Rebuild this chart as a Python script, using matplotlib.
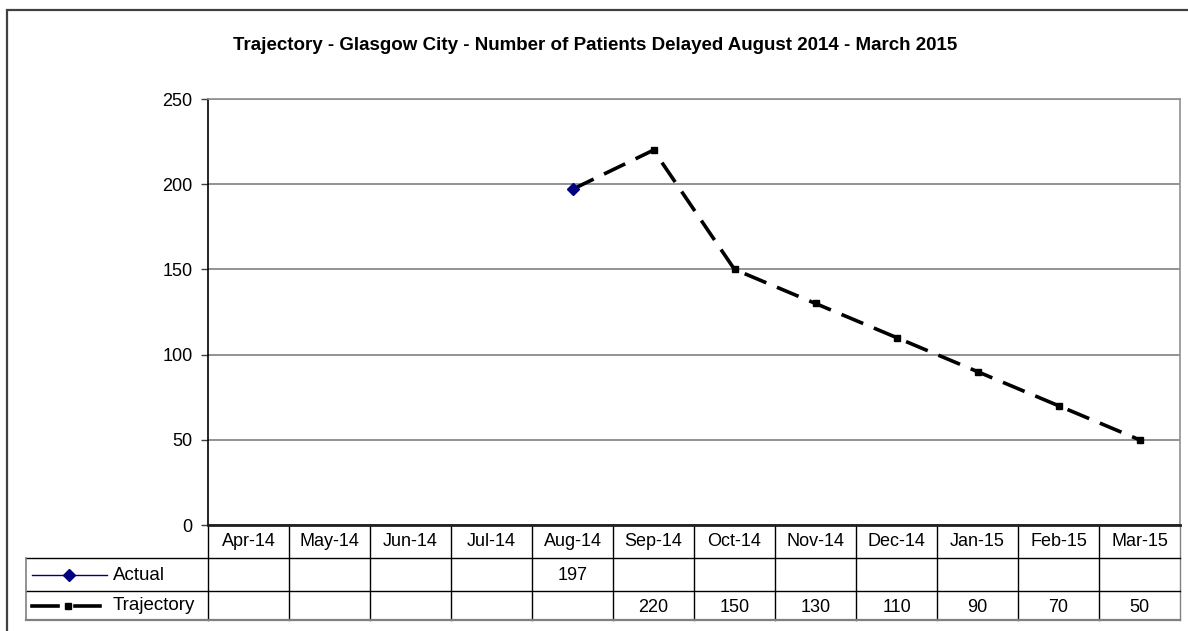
import numpy as np
import matplotlib
matplotlib.use("Agg")
from matplotlib import pyplot as plt
from matplotlib.lines import Line2D
from matplotlib.patches import Rectangle
import matplotlib.transforms as mtransforms

months = ["Apr-14", "May-14", "Jun-14", "Jul-14", "Aug-14", "Sep-14",
          "Oct-14", "Nov-14", "Dec-14", "Jan-15", "Feb-15", "Mar-15"]
actual = [None, None, None, None, 197, None, None, None, None, None, None, None]
trajectory = [None, None, None, None, None, 220, 150, 130, 110, 90, 70, 50]
title = "Trajectory - Glasgow City - Number of Patients Delayed August 2014 - March 2015"
yticks = [0, 50, 100, 150, 200, 250]

plt.rcParams['font.family'] = ['Liberation Sans', 'DejaVu Sans']

W, H = 1188, 631
fig = plt.figure(figsize=(W / 100, H / 100), dpi=100)

def fx(px):
    return px / W

def fy(py):
    return 1 - py / H

# outer chart frame (clipped on right and bottom)
fig.add_artist(Rectangle((fx(7), fy(700)), fx(1300), fy(10) - fy(700),
                         fill=False, ec="#404040", lw=1.6, transform=fig.transFigure))

left, right, top, bottom = 208, 1180, 99, 525
ax = fig.add_axes([fx(left), fy(bottom), fx(right - left), fy(top) - fy(bottom)])

x = np.arange(len(months))
act = np.array([np.nan if v is None else v for v in actual], dtype=float)
traj = np.array([np.nan if v is None else v for v in trajectory], dtype=float)
# trajectory line continues from the last actual value
traj_line = traj.copy()
last = np.where(~np.isnan(act))[0][-1]
traj_line[last] = act[last]

ax.plot(x, traj_line, color="black", lw=2.6, linestyle=(0, (6.5, 3.2)), zorder=3)
ax.plot(x, traj, color="black", lw=0, marker="s", ms=5, zorder=4)
ax.plot(x, act, color="#000080", lw=1, marker="D", ms=6.5, zorder=5)

ax.set_xlim(-0.5, len(months) - 0.5)
ax.set_ylim(0, 250)
ax.set_yticks(yticks)
ax.set_xticks([])
ax.grid(axis="y", color="#808080", lw=1.2)
ax.set_axisbelow(True)
for s in ["top", "right"]:
    ax.spines[s].set_color("#909090")
    ax.spines[s].set_linewidth(1.2)
ax.spines["left"].set_color("black")
ax.spines["left"].set_linewidth(1.2)
ax.spines["bottom"].set_color("#202020")
ax.spines["bottom"].set_linewidth(2)
ax.tick_params(axis="y", direction="out", length=5, width=1, color="#404040",
               labelsize=13, pad=6)

fig.text(fx(595), fy(45), title, ha="center", va="center", fontsize=13.5,
         fontweight="bold")

# data table below the axis
trans = mtransforms.blended_transform_factory(ax.transData, fig.transFigure)
row_top, row1, row2, row_bot = 525, 558, 591, 620
tab_left = 26
fs = 13

# horizontal lines
for py, x0 in [(row1, tab_left), (row2, tab_left)]:
    fig.add_artist(Line2D([fx(x0), fx(right)], [fy(py), fy(py)], color="black",
                          lw=1, transform=fig.transFigure))
fig.add_artist(Line2D([fx(tab_left), fx(right)], [fy(row_bot), fy(row_bot)],
                      color="#808080", lw=1.6, transform=fig.transFigure))
fig.add_artist(Line2D([fx(tab_left), fx(tab_left)], [fy(row1), fy(row_bot)],
                      color="#808080", lw=1.2, transform=fig.transFigure))
# vertical lines at category boundaries
for b in np.arange(-0.5, len(months) + 0.5, 1.0):
    c = "#808080" if b == len(months) - 0.5 else "black"
    ax.add_artist(Line2D([b, b], [fy(row_top), fy(row_bot)], color=c, lw=1,
                         transform=trans, clip_on=False))

for i, m in enumerate(months):
    fig.text(0, 0, m, transform=trans, fontsize=fs, ha="center", va="center").set_position((i, fy(542)))
    if not np.isnan(act[i]):
        fig.text(0, 0, f"{act[i]:.0f}", transform=trans, fontsize=fs,
                 ha="center", va="center").set_position((i, fy(575)))
    if not np.isnan(traj[i]):
        fig.text(0, 0, f"{traj[i]:.0f}", transform=trans, fontsize=fs,
                 ha="center", va="center").set_position((i, fy(607)))

# legend keys in the table labels
fig.add_artist(Line2D([fx(32), fx(107)], [fy(575), fy(575)], color="#000080", lw=1,
                      transform=fig.transFigure))
fig.add_artist(Line2D([fx(69)], [fy(575)], color="#000080", marker="D", ms=6.5,
                      lw=0, transform=fig.transFigure))
fig.add_artist(Line2D([fx(32), fx(58)], [fy(606), fy(606)], color="black", lw=2.6,
                      transform=fig.transFigure))
fig.add_artist(Line2D([fx(75), fx(100)], [fy(606), fy(606)], color="black", lw=2.6,
                      transform=fig.transFigure))
fig.add_artist(Line2D([fx(68)], [fy(606)], color="black", marker="s", ms=5,
                      lw=0, transform=fig.transFigure))
fig.text(fx(113), fy(575), "Actual", fontsize=fs + 0.5, ha="left", va="center")
fig.text(fx(113), fy(606), "Trajectory", fontsize=fs + 0.5, ha="left", va="center")

fig.savefig("out.png", dpi=100)
